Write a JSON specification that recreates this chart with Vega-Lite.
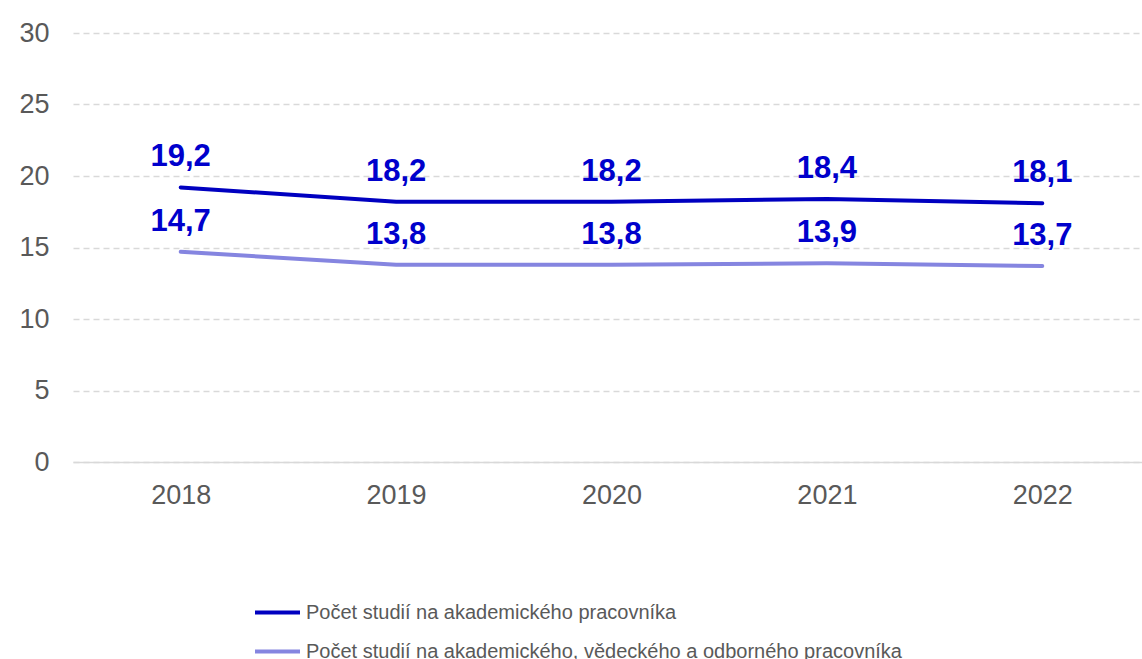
{
  "$schema": "https://vega.github.io/schema/vega-lite/v6.json",
  "width": 1077,
  "height": 429,
  "autosize": {"type": "none"},
  "padding": {"left": 73, "top": 33, "right": 0, "bottom": 197},
  "config": {"view": {"stroke": null}, "font": "Liberation Sans"},
  "data": {
    "values": [
      {"year": "2018", "series": "Počet studií na akademického pracovníka", "value": 19.2, "label": "19,2"},
      {"year": "2019", "series": "Počet studií na akademického pracovníka", "value": 18.2, "label": "18,2"},
      {"year": "2020", "series": "Počet studií na akademického pracovníka", "value": 18.2, "label": "18,2"},
      {"year": "2021", "series": "Počet studií na akademického pracovníka", "value": 18.4, "label": "18,4"},
      {"year": "2022", "series": "Počet studií na akademického pracovníka", "value": 18.1, "label": "18,1"},
      {"year": "2018", "series": "Počet studií na akademického, vědeckého a odborného pracovníka", "value": 14.7, "label": "14,7"},
      {"year": "2019", "series": "Počet studií na akademického, vědeckého a odborného pracovníka", "value": 13.8, "label": "13,8"},
      {"year": "2020", "series": "Počet studií na akademického, vědeckého a odborného pracovníka", "value": 13.8, "label": "13,8"},
      {"year": "2021", "series": "Počet studií na akademického, vědeckého a odborného pracovníka", "value": 13.9, "label": "13,9"},
      {"year": "2022", "series": "Počet studií na akademického, vědeckého a odborného pracovníka", "value": 13.7, "label": "13,7"}
    ]
  },
  "encoding": {
    "x": {
      "field": "year", "type": "ordinal",
      "scale": {"type": "point", "padding": 0.5},
      "axis": {
        "title": null, "labelAngle": 0, "ticks": false, "domainColor": "#d9d9d9", "domainWidth": 1.5,
        "labelFontSize": 27, "labelColor": "#595959", "labelPadding": 20, "grid": false
      }
    },
    "y": {
      "field": "value", "type": "quantitative",
      "scale": {"domain": [0, 30], "nice": false},
      "axis": {
        "title": null, "values": [0, 5, 10, 15, 20, 25, 30], "domain": false, "ticks": false,
        "labelFontSize": 27, "labelColor": "#595959", "labelPadding": 24,
        "gridColor": "#d9d9d9", "gridDash": [6, 4], "gridWidth": 1.5
      }
    }
  },
  "layer": [
    {
      "mark": {"type": "line", "strokeWidth": 4, "strokeCap": "round"},
      "encoding": {
        "color": {
          "field": "series", "type": "nominal",
          "scale": {
            "domain": ["Počet studií na akademického pracovníka", "Počet studií na akademického, vědeckého a odborného pracovníka"],
            "range": ["#0000C0", "#8585E0"]
          },
          "legend": {
            "title": null, "orient": "none", "legendX": 180, "legendY": 555, "direction": "vertical",
            "symbolType": "stroke", "symbolSize": 2025, "symbolStrokeWidth": 4,
            "labelFontSize": 20, "labelColor": "#595959", "labelOffset": 4, "rowPadding": 4, "labelLimit": 800
          }
        }
      }
    },
    {
      "mark": {"type": "text", "fontSize": 31, "fontWeight": "bold", "color": "#0000CC", "baseline": "alphabetic", "dy": -21},
      "encoding": {"text": {"field": "label"}}
    }
  ]
}
